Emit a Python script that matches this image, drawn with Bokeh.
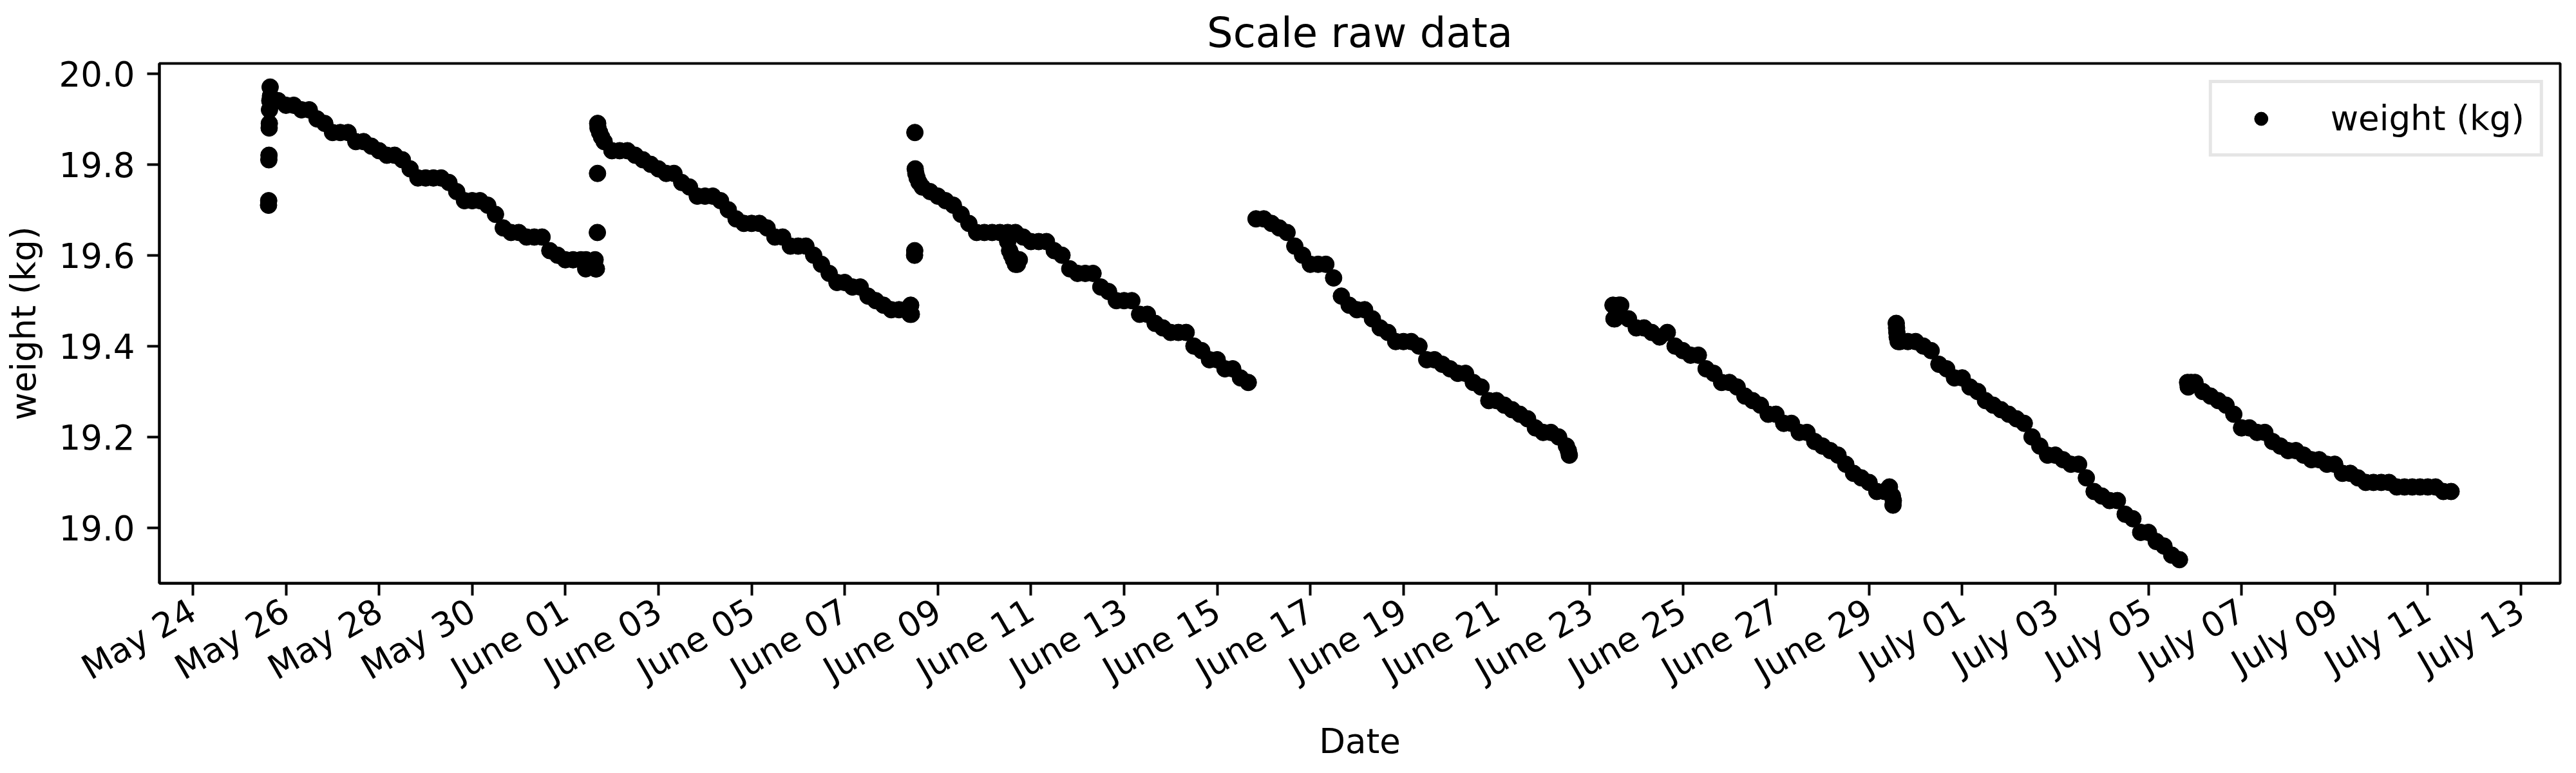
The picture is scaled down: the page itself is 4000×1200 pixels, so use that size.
import math

import pandas as pd
from bokeh.embed import file_html
from bokeh.models import (DatetimeTickFormatter, FixedTicker,
                          NumeralTickFormatter, Range1d)
from bokeh.plotting import figure
from bokeh.resources import INLINE

# scale readings, one every 4 hours per refill period
seg1_start = "2020-05-25 16:00"
seg1 = [19.95, 19.94, 19.93, 19.93, 19.92, 19.92, 19.90, 19.89, 19.87, 19.87,
        19.87, 19.85, 19.85, 19.84, 19.83, 19.82, 19.82, 19.81, 19.79, 19.77,
        19.77, 19.77, 19.77, 19.76, 19.74, 19.72, 19.72, 19.72, 19.71, 19.69,
        19.66, 19.65, 19.65, 19.64, 19.64, 19.64, 19.61, 19.60, 19.59, 19.59,
        19.59, 19.58, 19.57]
seg2_start = "2020-06-01 20:00"
seg2 = [19.85, 19.83, 19.83, 19.83, 19.82, 19.81, 19.80, 19.79, 19.78, 19.78,
        19.76, 19.75, 19.73, 19.73, 19.73, 19.72, 19.70, 19.68, 19.67, 19.67,
        19.67, 19.66, 19.64, 19.64, 19.62, 19.62, 19.62, 19.60, 19.58, 19.56,
        19.54, 19.54, 19.53, 19.53, 19.51, 19.50, 19.49, 19.48, 19.48, 19.48]
seg3_start = "2020-06-08 16:00"
seg3 = [19.75, 19.74, 19.73, 19.72, 19.71, 19.69, 19.67, 19.65, 19.65, 19.65,
        19.65, 19.65, 19.65, 19.64, 19.63, 19.63, 19.63, 19.61, 19.60, 19.57,
        19.56, 19.56, 19.56, 19.53, 19.52, 19.50, 19.50, 19.50, 19.47, 19.47,
        19.45, 19.44, 19.43, 19.43, 19.43, 19.40, 19.39, 19.37, 19.37, 19.35,
        19.35, 19.33, 19.32]
seg4_start = "2020-06-15 20:00"
seg4 = [19.68, 19.68, 19.67, 19.66, 19.65, 19.62, 19.60, 19.58, 19.58, 19.58,
        19.55, 19.51, 19.49, 19.48, 19.48, 19.46, 19.44, 19.43, 19.41, 19.41,
        19.41, 19.40, 19.37, 19.37, 19.36, 19.35, 19.34, 19.34, 19.32, 19.31,
        19.28, 19.28, 19.27, 19.26, 19.25, 19.24, 19.22, 19.21, 19.21, 19.20,
        19.18]
seg5_start = "2020-06-23 12:00"
seg5 = [19.49, 19.49, 19.46, 19.44, 19.44, 19.43, 19.42, 19.43, 19.40, 19.39,
        19.38, 19.38, 19.35, 19.34, 19.32, 19.32, 19.31, 19.29, 19.28, 19.27,
        19.25, 19.25, 19.23, 19.23, 19.21, 19.21, 19.19, 19.18, 19.17, 19.16,
        19.14, 19.12, 19.11, 19.10, 19.08, 19.08, 19.07]
seg6_start = "2020-06-29 16:00"
seg6 = [19.41, 19.41, 19.41, 19.40, 19.39, 19.36, 19.35, 19.33, 19.33, 19.31,
        19.30, 19.28, 19.27, 19.26, 19.25, 19.24, 19.23, 19.20, 19.18, 19.16,
        19.16, 19.15, 19.14, 19.14, 19.11, 19.08, 19.07, 19.06, 19.06, 19.03,
        19.02, 18.99, 18.99, 18.97, 18.96, 18.94, 18.93]
seg7_start = "2020-07-06 00:00"
seg7 = [19.32, 19.30, 19.29, 19.28, 19.27, 19.25, 19.22, 19.22, 19.21, 19.21,
        19.19, 19.18, 19.17, 19.17, 19.16, 19.15, 19.15, 19.14, 19.14, 19.12,
        19.12, 19.11, 19.10, 19.10, 19.10, 19.10, 19.09, 19.09, 19.09, 19.09,
        19.09, 19.09, 19.08, 19.08]

# unsettled readings around the refills
extra_times = [
    "2020-05-25 15:00", "2020-05-25 15:05", "2020-05-25 15:10", "2020-05-25 15:15",
    "2020-05-25 15:20", "2020-05-25 15:25", "2020-05-25 15:30", "2020-05-25 15:40",
    "2020-05-25 15:50",
    "2020-06-01 10:30", "2020-06-01 10:40", "2020-06-01 15:20", "2020-06-01 15:40",
    "2020-06-01 16:30", "2020-06-01 16:35", "2020-06-01 16:40", "2020-06-01 16:50",
    "2020-06-01 17:40", "2020-06-01 18:40",
    "2020-06-08 09:40", "2020-06-08 10:00", "2020-06-08 10:20", "2020-06-08 12:00",
    "2020-06-08 12:05", "2020-06-08 12:10", "2020-06-08 12:20", "2020-06-08 12:40",
    "2020-06-08 13:20", "2020-06-08 14:20",
    "2020-06-10 12:00", "2020-06-10 13:00", "2020-06-10 14:00", "2020-06-10 15:00",
    "2020-06-10 16:00", "2020-06-10 17:00", "2020-06-10 18:00",
    "2020-06-22 13:00", "2020-06-22 13:30",
    "2020-06-23 12:30", "2020-06-23 13:00", "2020-06-23 14:00", "2020-06-23 15:00",
    "2020-06-29 10:30", "2020-06-29 12:20", "2020-06-29 12:30", "2020-06-29 14:00",
    "2020-06-29 14:10", "2020-06-29 14:20", "2020-06-29 14:30", "2020-06-29 15:00",
    "2020-07-05 20:10", "2020-07-05 20:30", "2020-07-05 22:00",
]
extra_weights = [
    19.71, 19.72, 19.81, 19.82, 19.88, 19.89, 19.92, 19.94, 19.97,
    19.57, 19.59, 19.59, 19.57, 19.65, 19.78, 19.89, 19.88, 19.87, 19.86,
    19.47, 19.49, 19.47, 19.60, 19.61, 19.87, 19.79, 19.78, 19.77, 19.76,
    19.63, 19.61, 19.60, 19.59, 19.58, 19.58, 19.59,
    19.17, 19.16,
    19.46, 19.46, 19.47, 19.49,
    19.09, 19.05, 19.06, 19.45, 19.44, 19.43, 19.42, 19.41,
    19.32, 19.31, 19.32,
]

tick_dates = ["2020-05-24", "2020-05-26", "2020-05-28", "2020-05-30",
              "2020-06-01", "2020-06-03", "2020-06-05", "2020-06-07",
              "2020-06-09", "2020-06-11", "2020-06-13", "2020-06-15",
              "2020-06-17", "2020-06-19", "2020-06-21", "2020-06-23",
              "2020-06-25", "2020-06-27", "2020-06-29", "2020-07-01",
              "2020-07-03", "2020-07-05", "2020-07-07", "2020-07-09",
              "2020-07-11", "2020-07-13"]
y_ticks = [19.0, 19.2, 19.4, 19.6, 19.8, 20.0]

segments = [(seg1_start, seg1), (seg2_start, seg2), (seg3_start, seg3),
            (seg4_start, seg4), (seg5_start, seg5), (seg6_start, seg6),
            (seg7_start, seg7)]
frames = [pd.DataFrame({"time": pd.date_range(s, periods=len(w), freq="4h"),
                        "weight": w}) for s, w in segments]
frames.append(pd.DataFrame({"time": pd.to_datetime(extra_times),
                            "weight": extra_weights}))
df = pd.concat(frames).sort_values("time")

# matplotlib-like 5% margins
tmin, tmax = df.time.min(), df.time.max()
pad_t = (tmax - tmin) * 0.05
wmin, wmax = df.weight.min(), df.weight.max()
pad_w = (wmax - wmin) * 0.05

FONT = "DejaVu Sans"

p = figure(width=3984, height=1184, x_axis_type="datetime",
           x_range=Range1d(tmin - pad_t, tmax + pad_t),
           y_range=Range1d(wmin - pad_w, wmax + pad_w),
           title="Scale raw data", x_axis_label="Date",
           y_axis_label="weight (kg)",
           output_backend="svg", toolbar_location=None,
           min_border_left=247, min_border_right=9,
           min_border_top=93, min_border_bottom=273)

p.scatter(df["time"], df["weight"], size=26, color="black",
          legend_label="weight (kg)")

p.title.text_font = FONT
p.title.text_font_size = "64px"
p.title.text_font_style = "normal"
p.title.text_color = "black"
p.title.align = "center"
p.title.standoff = 22

p.outline_line_color = "black"
p.outline_line_width = 4
p.outline_line_alpha = 1.0
p.grid.visible = False

for ax in p.axis:
    ax.axis_line_width = 4
    ax.axis_line_color = "black"
    ax.major_tick_line_width = 4
    ax.major_tick_line_color = "black"
    ax.major_tick_out = 19
    ax.major_tick_in = 0
    ax.minor_tick_out = 0
    ax.minor_tick_in = 0
    ax.major_label_text_font = FONT
    ax.major_label_text_font_size = "53px"
    ax.major_label_text_color = "black"
    ax.major_label_standoff = 19
    ax.axis_label_text_font = FONT
    ax.axis_label_text_font_size = "53px"
    ax.axis_label_text_font_style = "normal"
    ax.axis_label_text_color = "black"
    ax.axis_label_standoff = 21

p.xaxis.ticker = FixedTicker(ticks=[pd.Timestamp(d).value / 1e6 for d in tick_dates])
fmt = "%B %d"
p.xaxis.formatter = DatetimeTickFormatter(
    milliseconds=fmt, seconds=fmt, minsec=fmt, minutes=fmt, hourmin=fmt,
    hours=fmt, days=fmt, months=fmt, years=fmt)
p.xaxis.major_label_orientation = math.pi / 6

p.yaxis.ticker = FixedTicker(ticks=y_ticks)
p.yaxis.formatter = NumeralTickFormatter(format="0.0")

leg = p.legend[0]
leg.location = "top_right"
leg.margin = 26
leg.padding = 24
leg.spacing = 0
leg.glyph_width = 104
leg.glyph_height = 52
leg.label_standoff = 56
leg.label_text_font = FONT
leg.label_text_font_size = "53px"
leg.label_text_color = "black"
leg.border_line_color = "#cccccc"
leg.border_line_width = 5
leg.background_fill_alpha = 0.8

open("out.html", "w").write(file_html(p, INLINE))
